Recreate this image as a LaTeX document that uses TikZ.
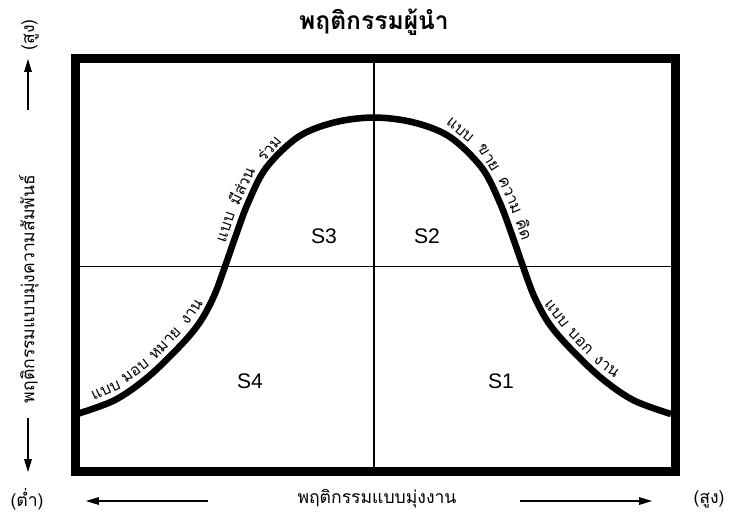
\documentclass[tikz,border=0pt]{standalone}
\usepackage{fontspec}
\setmainfont{Liberation Serif}
\setsansfont{Liberation Sans}
\newfontfamily\thaifont[Script=Thai]{Loma}
\usetikzlibrary{arrows.meta,calc}
% one word of a style name, set along the curve
\newcommand{\curveword}[5]{%
  \node (#1) [wordlbl,rotate=#4,anchor=base] at ($(#2,#3)+(#4+90:6.5pt)$) {#5};}

\begin{document}
\begin{tikzpicture}[x=0.03cm,y=-0.03cm,>={Triangle[length=11pt,width=6.5pt]},
  frame/.style={line width=7.6pt,line join=miter},
  midline/.style={line width=1.1pt},
  bell/.style={line width=5.6pt,line join=round},
  axisarrow/.style={line width=1pt,->},
  wordlbl/.style={font=\thaifont\fontsize{13.5}{16}\selectfont,inner sep=0pt},
  sidetxt/.style={font=\thaifont\fontsize{15}{18}\selectfont,inner sep=1pt},
  quad/.style={font=\sffamily\fontsize{18}{21}\selectfont}]
\useasboundingbox (0,0) rectangle (733,518);
% title
\node (title) [font=\thaifont\bfseries\fontsize{21}{25}\selectfont] at (374,22) {พฤติกรรมผู้นำ};
% quadrants
\coordinate (tl) at (75.5,58.5);
\coordinate (br) at (675.5,471.5);
\draw[midline] (374,58.5) -- (374,471.5);
\draw[midline] (75.5,266.5) -- (675.5,266.5);
% the leadership curve
\draw[bell] plot[smooth,tension=0.55] coordinates {(77,414) (115,400) (148,377)
  (181,345) (200,322) (214,296) (225,266.5) (236,235) (248,203) (266,168)
  (298,137) (334,122.5) (374,117.5) (414,122.5) (450,137) (482,168) (500,203)
  (512,235) (523,266.5) (534,296) (548,322) (567,345) (600,377) (633,400)
  (671,414)};
\draw[frame] (tl) rectangle (br);
% styles along the curve
\curveword{w1}{110.8}{401.6}{24}{แบบ}
\curveword{w2}{142.5}{380.8}{37}{มอบ}
\curveword{w3}{174.0}{351.8}{47}{หมาย}
\curveword{w4}{201.7}{318.9}{55}{งาน}
\curveword{w5}{237.4}{231.2}{71}{แบบ}
\curveword{w6}{253.9}{191.6}{65}{มีส่วน}
\curveword{w7}{279.1}{157.2}{50}{ร่วม}
\curveword{w8}{452.2}{139.2}{-40}{แบบ}
\curveword{w9}{478.1}{164.2}{-58}{ขาย}
\curveword{w10}{498.7}{200.4}{-67}{ความ}
\curveword{w11}{511.6}{234.0}{-71}{คิด}
\curveword{w12}{547.3}{320.7}{-52}{แบบ}
\curveword{w13}{571.8}{349.7}{-46}{บอก}
\curveword{w14}{599.1}{376.1}{-38}{งาน}
\node (s3) [quad] at (324,236) {S3};
\node (s2) [quad] at (427,236) {S2};
\node (s4) [quad] at (250,381) {S4};
\node (s1) [quad] at (501,381) {S1};
% vertical axis
\node (yhi) [sidetxt,rotate=90] at (30,35) {(สูง)};
\node (ylabel) [sidetxt,rotate=90] at (29,289) {พฤติกรรมแบบมุ่งความสัมพันธ์};
\coordinate (ytop0) at (28,110);
\coordinate (ytop1) at (28,59);
\coordinate (ybot0) at (28,418);
\coordinate (ybot1) at (28,472);
\draw[axisarrow] (ytop0) -- (ytop1);
\draw[axisarrow] (ybot0) -- (ybot1);
% horizontal axis
\node (xlo) [sidetxt] at (27,499) {(ต่ำ)};
\node (xlabel) [sidetxt] at (377,499) {พฤติกรรมแบบมุ่งงาน};
\node (xhi) [sidetxt] at (709,499) {(สูง)};
\coordinate (xl0) at (208,501);
\coordinate (xl1) at (86,501);
\coordinate (xr0) at (520,501);
\coordinate (xr1) at (652,501);
\draw[axisarrow] (xl0) -- (xl1);
\draw[axisarrow] (xr0) -- (xr1);
\end{tikzpicture}
\end{document}
